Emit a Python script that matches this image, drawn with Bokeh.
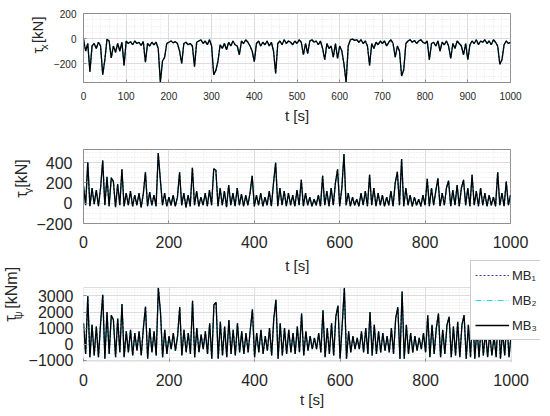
import math
from bokeh.plotting import figure
from bokeh.layouts import column, row
from bokeh.models import FixedTicker, Label, Legend, LegendItem, Range1d, BoxAnnotation
from bokeh.core.properties import value
from bokeh.embed import file_html
from bokeh.resources import INLINE

# ---------------- data (5 s sampling) ----------------
time_s = list(range(0, 1001, 5))

tau_x = [
    -5, -100, -40, -265, -60, -40, -80, -30, -60, -290,
    -170, -5, -20, -155, -60, -110, -40, -100, -30, -215,
    -20, -40, -25, -50, -20, -40, -30, -55, -25, -190,
    -40, -60, -30, -50, -30, -80, -350, -180, -150, -40,
    -30, -20, -35, -25, -40, -100, -200, -40, -30, -50,
    -40, -60, -225, -30, -20, -10, -40, -20, -50, -10,
    -60, -290, -255, -180, -50, -80, -40, -90, -30, -60,
    -20, -50, -60, -130, -20, -40, -10, -30, -60, -100,
    -185, -40, -20, -60, -30, -50, -20, -60, -30, -100,
    -280, -40, -20, -50, -10, -40, -20, -30, -50, -20,
    -40, -10, -30, -130, -40, -120, -20, -10, -30, -20,
    -50, -20, -80, -170, -40, -80, -60, -150, -40, -160,
    -60, -100, -205, -350, -60, -10, -5, -15, -10, -30,
    -10, -40, -20, -60, -215, -40, -80, -30, -50, -20,
    -40, -20, -60, -30, -10, -40, -150, -60, -100, -300,
    -250, -40, -20, -10, -30, -15, -40, -20, -10, -30,
    -40, -20, -170, -40, -30, -60, -20, -100, -30, -50,
    -20, -60, -160, -40, -80, -20, -40, -60, -130, -40,
    -170, -50, -20, -40, -10, -50, -20, -30, -10, -40,
    -20, -50, -10, -30, -60, -205, -170, -50, -20, -40,
    -30,
]

tau_y = [
    170, -20, 405, -30, 150, -10, 130, -30, 150, 420,
    -20, 260, -30, 250, 215, -40, 190, -20, 335, -30,
    100, -20, 120, -30, 80, -20, 100, -40, 90, 305,
    -30, 110, -20, 80, -30, 495, 230, -20, 100, -30,
    60, -20, 80, -30, 60, 305, -20, 100, -40, 80,
    -30, 350, -20, 120, -30, 60, -20, 100, -30, 130,
    -20, 340, 325, -30, 150, -20, 120, -40, 180, -20,
    100, -30, 150, -20, 90, -30, 80, -20, 100, 270,
    -30, 80, -20, 100, -30, 60, -20, 120, -30, 200,
    400, -30, 150, -20, 120, -30, 100, -20, 80, -30,
    130, -20, 230, -30, 100, -20, 60, -30, 40, -20,
    80, -30, 270, -20, 120, -30, 150, -20, 200, 335,
    -30, 150, 485, -20, 100, -30, 60, -20, 40, -30,
    100, -20, 120, -30, 280, -20, 150, -30, 100, -20,
    80, -30, 60, -20, 120, -30, 200, 310, -20, 437,
    -30, 150, -20, 80, -30, 60, -20, 40, -30, 80,
    -20, 240, -30, 150, -20, 120, 245, -30, 100, -20,
    150, 222, -30, 130, -20, 180, -30, 150, 230, -20,
    150, -30, 280, -20, 120, -30, 150, -20, 100, -30,
    80, -20, 60, -30, 305, -20, 100, -30, 215, -20,
    80,
]

tau_psi = [
    1300, -600, 2970, -800, 1200, -700, 1100, -800, 1300, 3070,
    -900, 2000, -600, 1800, 1500, -800, 1600, -500, 2500, -800,
    800, -500, 900, -700, 700, -400, 800, -700, 1000, 2330,
    -900, 1000, -500, 800, -700, 3500, 2000, -800, 900, -600,
    500, -300, 700, -400, 500, 2300, -700, 900, -500, 700,
    -600, 2700, -800, 1000, -500, 600, -300, 800, -600, 1300,
    -900, 2450, 2600, -900, 1400, -700, 1100, -800, 1500, -600,
    900, -700, 1300, -500, 800, -600, 700, -500, 900, 2160,
    -800, 700, -500, 900, -600, 500, -400, 1000, -700, 1600,
    2760, -900, 1300, -700, 1000, -600, 900, -500, 700, -600,
    1100, -500, 1900, -700, 800, -400, 500, -300, 400, -300,
    700, -500, 2100, -800, 1000, -600, 1300, -700, 1700, 2400,
    -900, 1200, 3500, -900, 800, -500, 500, -300, 400, -300,
    800, -500, 1000, -600, 2000, -700, 1200, -600, 800, -500,
    700, -400, 500, -500, 1000, -600, 1600, 2300, -900, 3270,
    -900, 1200, -600, 700, -500, 500, -400, 400, -300, 700,
    -500, 1800, -800, 1200, -600, 1000, 1900, -800, 900, -600,
    1200, 1700, -800, 1100, -700, 1400, -800, 1200, 1800, -900,
    1200, -800, 2100, -900, 1000, -800, 1200, -700, 800, -800,
    700, -700, 500, -800, 2000, -900, 800, -700, 1500, -800,
    600,
]

series_names = ["MB\u2081", "MB\u2082", "MB\u2083"]
x_label = "t [s]"
x_limits = (0, 1000)

FONT = "Liberation Sans"
TXT = "#262626"
EDGE = "#8f8f8f"
PX_PER_S = 0.437
TOTAL_W = 534
FRAME_L = 73


def make_panel(width, height, b_left, b_right, b_top, b_bottom, yr, xr,
               yticks, yminor, xticks, xminor, tick_size, ystand, xstand, data,
               xlabel=True, lstand=4):
    p = figure(width=width, height=height, x_range=Range1d(*xr),
               y_range=Range1d(*yr), output_backend="svg", toolbar_location=None,
               min_border_left=b_left, min_border_right=b_right,
               min_border_top=b_top, min_border_bottom=b_bottom)
    p.background_fill_color = "white"
    p.border_fill_color = "white"
    p.outline_line_color = EDGE
    p.outline_line_width = 1

    p.xaxis.ticker = FixedTicker(ticks=xticks, minor_ticks=xminor)
    p.yaxis.ticker = FixedTicker(ticks=yticks, minor_ticks=yminor)
    for ax in (p.xaxis, p.yaxis):
        ax.axis_line_color = EDGE
        ax.major_tick_line_color = EDGE
        ax.major_tick_in = 3
        ax.major_tick_out = 0
        ax.minor_tick_line_color = None
        ax.major_label_text_font = FONT
        ax.major_label_text_font_size = tick_size
        ax.major_label_text_color = TXT
    p.yaxis.major_label_standoff = ystand
    p.xaxis.major_label_standoff = xstand
    if xlabel:
        p.xaxis.axis_label = x_label
        p.xaxis.axis_label_text_font = FONT
        p.xaxis.axis_label_text_font_size = "15px"
        p.xaxis.axis_label_text_font_style = "normal"
        p.xaxis.axis_label_text_color = TXT
        p.xaxis.axis_label_standoff = lstand

    for g in (p.xgrid, p.ygrid):
        g.grid_line_color = "#dcdcdc"
        g.grid_line_width = 1
        g.minor_grid_line_color = "#e4e4e4"
        g.minor_grid_line_dash = "1 2"
        g.minor_grid_line_width = 1

    r1 = p.line(time_s, data, line_color="#3c3cb4", line_dash="2 2", line_width=1.2)
    r2 = p.line(time_s, data, line_color="#22dde6", line_dash="6 2 1 2", line_width=1.2)
    r3 = p.line(time_s, data, line_color="black", line_width=1.3)
    return p, (r1, r2, r3)


def label_fig(width, height, parts):
    f = figure(width=width, height=height, x_range=Range1d(0, width),
               y_range=Range1d(0, height), output_backend="svg",
               toolbar_location=None, x_axis_location=None, y_axis_location=None,
               min_border=0, min_border_left=0, min_border_right=0,
               min_border_top=0, min_border_bottom=0)
    f.grid.visible = False
    f.outline_line_color = None
    f.background_fill_color = "white"
    f.border_fill_color = "white"
    for txt, x, y, size in parts:
        f.text(x=[x], y=[y], text=[txt], angle=math.pi / 2,
               text_align="left", text_baseline="alphabetic",
               text_font=value(FONT), text_font_size=value(size), text_color=TXT)
    return f


# ---- row 1 : tau_x ----
H1, L1 = 126, 50
lab1 = label_fig(L1, H1, [("\u03c4", 37, 53, "15px"), ("x", 43.5, 60, "11px"),
                          ("[kN]", 37, 72, "15px")])
p1, _ = make_panel(TOTAL_W - L1, H1, FRAME_L - L1, 24, 13, 40, (-352, 200), x_limits,
                   [-200, 0, 200], list(range(-350, 201, 50)),
                   list(range(0, 1001, 100)), list(range(0, 1001, 20)),
                   "10px", 3, 5, tau_x, xlabel=True, lstand=4)

# ---- row 2 : tau_y ----
H2, L2 = 126, 33
lab2 = label_fig(L2, H2, [("\u03c4", 21, 44, "16px"), ("y", 27, 51, "11px"),
                          ("[kN]", 21, 61, "16px")])
p2, _ = make_panel(TOTAL_W - L2, H2, FRAME_L - L2, 24, 23, 29, (-200, 530), x_limits,
                   [-200, 0, 200, 400], list(range(-200, 531, 50)),
                   list(range(0, 1001, 200)), list(range(0, 1001, 40)),
                   "16px", 7, 8, tau_y, xlabel=False)

# ---- row 3 : tau_psi (frame extended up/right so the legend can overhang) ----
H3, L3 = 162, 25
W3 = 540 - L3
frame_w3 = W3 - (FRAME_L - L3)
x_end3 = frame_w3 / PX_PER_S
y_lo3, y_hi3 = -1070, 3520
units_per_px3 = (y_hi3 - y_lo3) / 74.0
y_top3 = y_hi3 + 33 * units_per_px3
lab3 = label_fig(L3, H3, [("\u03c4", 10, 60, "16px"), ("\u03c8", 17.5, 64, "11px"),
                          ("[kNm]", 11, 80, "16px")])
p3, rs = make_panel(W3, H3, FRAME_L - L3, 0, 2, 53, (y_lo3, y_top3), (0, x_end3),
                    [-1000, 0, 1000, 2000, 3000], list(range(-1000, 3501, 200)),
                    list(range(0, 1001, 200)), list(range(0, 1001, 40)),
                    "16px", 6, 8, tau_psi, xlabel=True, lstand=2)
p3.outline_line_color = None
p3.xaxis.axis_line_color = None
p3.yaxis.axis_line_color = None
# blank out the extension strips
p3.add_layout(BoxAnnotation(bottom=y_hi3, fill_color="white", fill_alpha=1.0,
                            line_color=None))
p3.add_layout(BoxAnnotation(left=x_limits[1], fill_color="white", fill_alpha=1.0,
                            line_color=None))
# visible axes box of the bottom panel
p3.add_layout(BoxAnnotation(left=x_limits[0], right=x_limits[1], bottom=y_lo3, top=y_hi3,
                            fill_alpha=0, line_color=EDGE, line_width=1))
# x-axis label of the middle panel (drawn in the strip above the bottom axes)
p3.add_layout(Label(x=500, y=y_hi3 + 22 * units_per_px3, text=x_label,
                    text_align="center", text_baseline="middle",
                    text_font=FONT, text_font_size="15px", text_color=TXT))

legend = Legend(items=[LegendItem(label=n, renderers=[r]) for n, r in zip(series_names, rs)],
                location=(387, 21))
legend.border_line_color = "#9a9a9a"
legend.background_fill_color = "white"
legend.background_fill_alpha = 1.0
legend.label_text_font = FONT
legend.label_text_font_size = "13px"
legend.label_text_color = TXT
legend.glyph_width = 34
legend.glyph_height = 20
legend.label_height = 20
legend.spacing = 5
legend.padding = 4
legend.margin = 0
legend.label_standoff = 3
p3.add_layout(legend)

layout = column(row(lab1, p1, spacing=0), row(lab2, p2, spacing=0),
                row(lab3, p3, spacing=0), spacing=0)
open("out.html", "w").write(file_html(layout, INLINE))
